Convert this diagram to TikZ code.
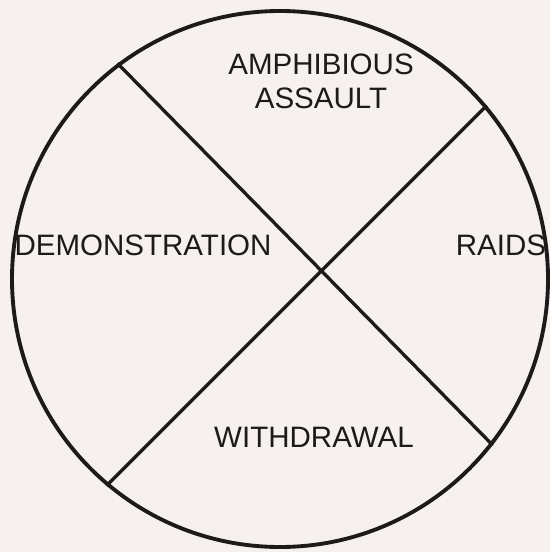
\documentclass[tikz,border=0pt]{standalone}
\usepackage{fontspec}
\setmainfont{Liberation Sans}
\usepackage{xcolor}
\usetikzlibrary{positioning, backgrounds}
\definecolor{paper}{HTML}{F6F0EE}
\definecolor{ink}{HTML}{1E1A1A}

\begin{document}
\begin{tikzpicture}[
    every node/.style={font=\fontsize{16.8}{19.5}\selectfont, text=ink},
    ring/.style={draw=ink, circle, line width=2.2pt, minimum size=10.72cm, inner sep=0pt},
    chord/.style={draw=ink, line width=1.9pt},
    lbl/.style={align=center, inner sep=1pt}
]
\useasboundingbox[fill=paper] (0,0) rectangle (11,-11.04);

\node[ring] (wheel) at (5.6,-5.58) {};

% the two dividing chords
\draw[chord] (wheel.127) -- (wheel.-38);
\draw[chord] (wheel.40) -- (wheel.230);

\node[lbl] (amph) at (6.42,-1.62) {AMPHIBIOUS\\ASSAULT};
\node[lbl] (demo) at (2.86,-4.91) {DEMONSTRATION};
\node[lbl] (raid) at (10.02,-4.91) {RAIDS};
\node[lbl] (wdr) at (6.28,-8.74) {WITHDRAWAL};

\end{tikzpicture}
\end{document}
